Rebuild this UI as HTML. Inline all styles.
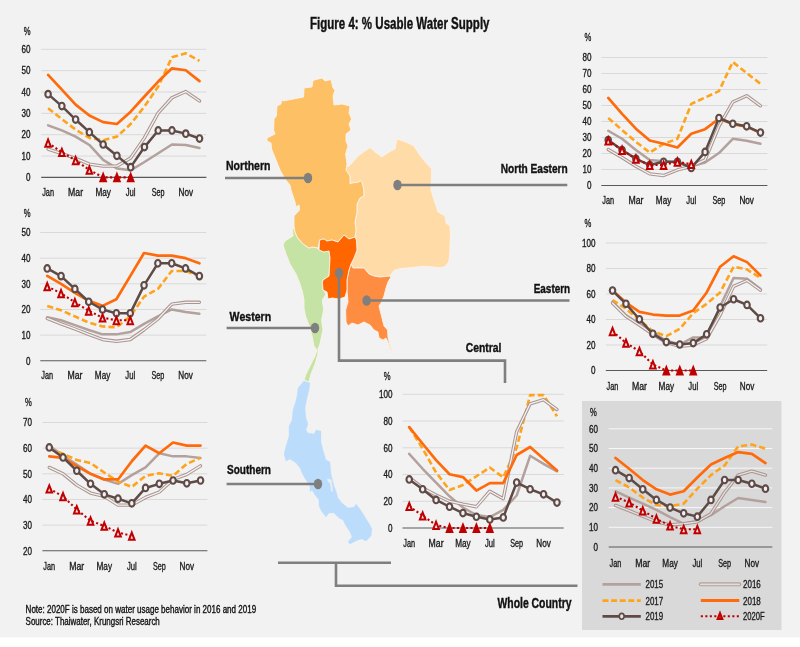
<!DOCTYPE html>
<html lang="en">
<head>
<meta charset="utf-8">
<title>Figure 4: % Usable Water Supply</title>
<style>
html,body{margin:0;padding:0;background:#fff;}
body{width:800px;height:647px;overflow:hidden;}
svg{display:block;font-family:"Liberation Sans", sans-serif;}
</style>
</head>
<body>
<svg width="800" height="647" viewBox="0 0 800 647">
<g style="filter:blur(0.45px)">
<rect x="-20" y="-20" width="840" height="657.3" fill="#f2f2f2"/>
<rect x="582" y="401" width="199.5" height="229" fill="#d9d9d9"/>
<polygon points="294.0,228.0 295.0,232.0 297.0,237.0 303.0,244.0 309.0,248.0 313.0,247.0 318.0,248.0 319.0,250.0 324.0,252.0 329.0,251.0 330.0,258.0 329.0,276.0 323.0,280.0 322.4,282.0 323.0,290.0 326.0,294.0 322.4,300.0 323.6,310.0 321.6,320.0 323.0,330.0 322.0,334.0 320.0,344.0 318.0,349.0 318.0,354.0 315.0,364.0 311.0,374.0 309.0,382.0 304.0,380.0 306.0,374.0 310.0,366.0 315.0,356.0 317.0,350.0 314.0,346.0 312.0,336.0 310.0,328.0 305.5,316.0 304.0,308.0 304.0,300.0 302.5,292.0 300.0,284.0 296.0,274.0 290.0,264.0 286.0,254.0 283.0,245.0 285.0,241.0 293.0,236.0 292.4,230.0" fill="#c5e3a4" stroke="#fbf3ea" stroke-width="0.9" stroke-linejoin="round"/>
<polygon points="304.0,381.0 310.0,383.0 309.0,390.0 307.0,398.0 305.0,408.0 306.0,418.0 308.0,424.0 306.0,430.0 308.0,433.0 314.0,434.0 316.0,430.0 321.0,431.0 321.0,442.0 323.0,450.0 326.0,460.0 330.0,462.0 331.0,474.0 334.0,486.0 336.0,491.0 338.0,498.0 342.0,503.0 348.0,508.0 354.0,507.0 356.0,504.0 360.0,509.0 365.0,517.0 370.0,525.0 372.0,529.0 371.0,536.0 366.0,541.0 362.0,539.0 358.0,540.0 350.0,544.0 348.0,542.0 352.0,537.0 350.0,532.0 346.0,526.0 343.0,520.0 339.0,518.0 334.0,513.0 329.0,513.0 326.0,517.0 322.0,512.0 319.0,506.0 319.0,500.0 315.0,495.0 312.0,490.0 310.0,492.0 310.0,486.0 306.0,480.0 303.0,475.0 300.0,468.0 296.0,463.0 290.0,459.0 286.0,461.0 284.0,454.0 286.0,446.0 289.0,436.0 289.0,426.0 292.0,420.0 293.0,410.0 295.0,404.0 297.0,396.0 298.0,388.0" fill="#bcdcfc" stroke="#bcdcfc" stroke-width="0.3" stroke-linejoin="round"/>
<polygon points="348.0,167.0 353.0,162.0 358.0,156.0 365.0,151.0 370.0,147.6 375.0,152.0 382.0,157.0 389.0,152.0 395.0,149.0 397.0,139.0 406.0,142.0 414.0,146.0 419.0,154.0 426.0,163.0 431.6,169.0 431.0,190.0 434.0,200.0 438.0,212.0 445.0,216.0 446.0,223.0 450.0,226.0 450.4,234.0 450.0,246.0 449.6,256.0 448.6,262.0 445.0,266.5 440.0,267.7 430.0,266.7 422.0,266.3 410.0,267.8 400.0,268.6 394.0,270.5 390.0,276.0 380.0,277.0 374.0,276.0 369.0,274.0 364.0,268.0 353.0,268.0 351.0,264.0 354.0,258.0 357.0,250.0 356.4,240.0 355.0,237.0 356.0,230.0 355.0,222.0 357.0,212.0 357.0,204.0 360.0,198.0 364.0,196.0 363.6,189.0 362.0,182.0 360.0,180.5 359.0,182.0 352.0,183.0 350.0,184.0 350.0,176.0 346.0,170.0 347.0,164.0" fill="#ffdba8" stroke="#fbf3ea" stroke-width="0.9" stroke-linejoin="round"/>
<polygon points="313.0,80.4 322.0,78.0 325.0,81.0 331.0,79.6 333.0,88.0 335.0,90.0 333.0,96.0 334.0,105.0 342.0,104.0 350.0,106.0 349.0,113.0 351.6,119.0 349.0,124.0 351.0,130.0 346.0,134.0 346.0,141.0 348.0,146.0 345.6,154.0 347.0,164.0 346.0,170.0 350.0,176.0 350.0,184.0 352.0,183.0 359.0,182.0 360.0,180.5 362.0,182.0 363.6,189.0 364.0,196.0 360.0,198.0 357.0,204.0 357.0,212.0 355.0,222.0 356.0,230.0 355.0,237.0 349.0,239.0 344.0,235.0 338.0,242.0 332.0,240.0 327.0,241.0 324.0,239.0 319.6,240.0 318.0,248.0 313.0,247.0 309.0,248.0 303.0,244.0 297.0,237.0 295.0,232.0 294.0,226.0 294.0,216.0 299.6,210.0 299.0,205.0 296.0,207.0 295.0,202.0 291.0,190.0 290.0,185.0 285.0,179.0 280.0,170.0 271.6,149.0 271.0,143.0 267.0,141.0 267.0,138.0 275.0,134.0 273.6,130.0 274.0,119.0 276.4,116.0 277.0,106.0 281.0,104.0 281.6,99.0 283.0,101.0 303.6,97.0 304.0,88.0 312.0,87.0" fill="#fec064" stroke="#fbf3ea" stroke-width="0.9" stroke-linejoin="round"/>
<polygon points="351.0,264.0 353.0,268.0 364.0,268.0 369.0,274.0 374.0,276.0 380.0,277.0 390.0,276.0 391.0,277.0 388.0,282.0 386.0,288.0 384.0,296.0 381.0,303.0 379.0,306.0 382.0,318.0 384.0,326.0 387.6,330.0 388.0,337.0 389.6,344.0 391.6,350.0 392.4,354.0 390.0,348.0 388.0,342.0 386.0,338.0 383.0,340.0 379.0,338.0 378.0,332.0 374.0,330.0 370.0,325.0 364.0,322.0 358.0,325.0 352.0,323.0 348.0,326.0 346.0,322.0 345.6,310.0 348.0,302.0 347.0,290.0 347.0,280.0 349.0,270.0" fill="#ff8d41" stroke="#fbf3ea" stroke-width="0.9" stroke-linejoin="round"/>
<polygon points="319.6,240.0 324.0,239.0 327.0,241.0 332.0,240.0 338.0,242.0 344.0,235.0 349.0,239.0 355.0,237.0 356.4,240.0 357.0,250.0 354.0,258.0 351.0,264.0 349.0,270.0 347.0,280.0 347.0,290.0 345.0,297.0 339.0,299.0 332.0,298.0 328.0,299.0 327.0,292.0 323.0,290.0 322.4,282.0 323.0,280.0 329.0,276.0 330.0,258.0 329.0,251.0 324.0,252.0 319.0,250.0" fill="#ff6600" stroke="#fbf3ea" stroke-width="0.9" stroke-linejoin="round"/>
<polygon points="327,478.5 331.5,479.5 333,492 331,491 330,483 328,482" fill="#e6eef6"/>
<polyline points="225.0,178.0 308.0,178.0" fill="none" stroke="#7f7f7f" stroke-width="2.6"/>
<ellipse cx="308" cy="178" rx="4.2" ry="5.3" fill="#7f7f7f"/>
<polyline points="397.5,185.0 567.3,185.0" fill="none" stroke="#7f7f7f" stroke-width="2.6"/>
<ellipse cx="397.5" cy="185" rx="4.2" ry="5.3" fill="#7f7f7f"/>
<polyline points="366.6,300.5 569.5,300.5" fill="none" stroke="#7f7f7f" stroke-width="2.6"/>
<ellipse cx="366.6" cy="300.5" rx="4.2" ry="5.3" fill="#7f7f7f"/>
<polyline points="226.6,328.0 315.0,328.0" fill="none" stroke="#7f7f7f" stroke-width="2.6"/>
<ellipse cx="315" cy="328" rx="4.2" ry="5.3" fill="#7f7f7f"/>
<polyline points="226.6,484.0 318.0,484.0" fill="none" stroke="#7f7f7f" stroke-width="2.6"/>
<ellipse cx="318" cy="484" rx="4.2" ry="5.3" fill="#7f7f7f"/>
<polyline points="339.0,273.0 339.0,360.6 505.0,360.6 505.0,383.0" fill="none" stroke="#7f7f7f" stroke-width="2.6"/>
<ellipse cx="339" cy="273" rx="4.2" ry="5.3" fill="#7f7f7f"/>
<polyline points="278.0,562.7 391.0,562.7" fill="none" stroke="#7f7f7f" stroke-width="2.6"/>
<polyline points="336.0,562.7 336.0,585.8 577.5,585.8" fill="none" stroke="#7f7f7f" stroke-width="2.6"/>
<text x="30.60" y="181.02" font-size="10.1" text-anchor="end" textLength="4.50" lengthAdjust="spacingAndGlyphs" fill="#1c1c1c" stroke="#1c1c1c" stroke-width="0.35">0</text>
<line x1="41.20" x2="206.40" y1="156.05" y2="156.05" stroke="#d9d9d9" stroke-width="1"/>
<text x="30.60" y="159.67" font-size="10.1" text-anchor="end" textLength="9.00" lengthAdjust="spacingAndGlyphs" fill="#1c1c1c" stroke="#1c1c1c" stroke-width="0.35">10</text>
<line x1="41.20" x2="206.40" y1="134.70" y2="134.70" stroke="#d9d9d9" stroke-width="1"/>
<text x="30.60" y="138.32" font-size="10.1" text-anchor="end" textLength="9.00" lengthAdjust="spacingAndGlyphs" fill="#1c1c1c" stroke="#1c1c1c" stroke-width="0.35">20</text>
<line x1="41.20" x2="206.40" y1="113.35" y2="113.35" stroke="#d9d9d9" stroke-width="1"/>
<text x="30.60" y="116.97" font-size="10.1" text-anchor="end" textLength="9.00" lengthAdjust="spacingAndGlyphs" fill="#1c1c1c" stroke="#1c1c1c" stroke-width="0.35">30</text>
<line x1="41.20" x2="206.40" y1="92.00" y2="92.00" stroke="#d9d9d9" stroke-width="1"/>
<text x="30.60" y="95.62" font-size="10.1" text-anchor="end" textLength="9.00" lengthAdjust="spacingAndGlyphs" fill="#1c1c1c" stroke="#1c1c1c" stroke-width="0.35">40</text>
<line x1="41.20" x2="206.40" y1="70.65" y2="70.65" stroke="#d9d9d9" stroke-width="1"/>
<text x="30.60" y="74.27" font-size="10.1" text-anchor="end" textLength="9.00" lengthAdjust="spacingAndGlyphs" fill="#1c1c1c" stroke="#1c1c1c" stroke-width="0.35">50</text>
<line x1="41.20" x2="206.40" y1="49.30" y2="49.30" stroke="#d9d9d9" stroke-width="1"/>
<text x="30.60" y="52.92" font-size="10.1" text-anchor="end" textLength="9.00" lengthAdjust="spacingAndGlyphs" fill="#1c1c1c" stroke="#1c1c1c" stroke-width="0.35">60</text>
<text x="23.80" y="35.30" font-size="10.7" textLength="6.80" lengthAdjust="spacingAndGlyphs" fill="#1c1c1c" stroke="#1c1c1c" stroke-width="0.35">%</text>
<polyline points="48.08,125.31 61.85,130.43 75.62,136.62 89.38,144.95 103.15,159.89 116.92,168.43 130.68,170.35 144.45,162.03 158.22,153.27 171.98,144.52 185.75,144.95 199.52,147.94" fill="none" stroke="#b3a19d" stroke-width="2.5" stroke-linejoin="round" stroke-linecap="round"/>
<polyline points="48.08,108.23 61.85,119.11 75.62,129.58 89.38,137.90 103.15,140.25 116.92,136.62 130.68,124.02 144.45,106.52 158.22,86.45 171.98,57.20 185.75,53.36 199.52,60.83" fill="none" stroke="#ffa31a" stroke-width="2.6" stroke-dasharray="6.2 3.1" stroke-linejoin="round"/>
<polyline points="48.08,149.22 61.85,153.70 75.62,158.40 89.38,164.16 103.15,166.08 116.92,166.08 130.68,157.97 144.45,137.90 158.22,112.92 171.98,97.76 185.75,91.57 199.52,100.97" fill="none" stroke="#ab9590" stroke-width="3.4" stroke-linejoin="round" stroke-linecap="round"/>
<polyline points="48.08,149.22 61.85,153.70 75.62,158.40 89.38,164.16 103.15,166.08 116.92,166.08 130.68,157.97 144.45,137.90 158.22,112.92 171.98,97.76 185.75,91.57 199.52,100.97" fill="none" stroke="#f2f2f2" stroke-width="1.3" stroke-linejoin="round" stroke-linecap="round"/>
<polyline points="48.08,74.92 61.85,89.65 75.62,104.60 89.38,115.48 103.15,122.10 116.92,124.02 130.68,111.64 144.45,96.48 158.22,81.54 171.98,68.30 185.75,70.22 199.52,81.11" fill="none" stroke="#ff6a0a" stroke-width="2.7" stroke-linejoin="round" stroke-linecap="round"/>
<line x1="41.20" x2="206.40" y1="177.40" y2="177.40" stroke="#595959" stroke-width="1.1"/>
<polyline points="48.08,94.13 61.85,106.09 75.62,119.54 89.38,132.14 103.15,144.52 116.92,155.84 130.68,167.15 144.45,147.08 158.22,130.43 171.98,130.43 185.75,133.63 199.52,138.54" fill="none" stroke="#5e4a46" stroke-width="2.5" stroke-linejoin="round" stroke-linecap="round"/>
<ellipse cx="48.08" cy="94.13" rx="2.75" ry="3.3" fill="#f4f0ef" stroke="#5e4a46" stroke-width="2.1"/>
<ellipse cx="61.85" cy="106.09" rx="2.75" ry="3.3" fill="#f4f0ef" stroke="#5e4a46" stroke-width="2.1"/>
<ellipse cx="75.62" cy="119.54" rx="2.75" ry="3.3" fill="#f4f0ef" stroke="#5e4a46" stroke-width="2.1"/>
<ellipse cx="89.38" cy="132.14" rx="2.75" ry="3.3" fill="#f4f0ef" stroke="#5e4a46" stroke-width="2.1"/>
<ellipse cx="103.15" cy="144.52" rx="2.75" ry="3.3" fill="#f4f0ef" stroke="#5e4a46" stroke-width="2.1"/>
<ellipse cx="116.92" cy="155.84" rx="2.75" ry="3.3" fill="#f4f0ef" stroke="#5e4a46" stroke-width="2.1"/>
<ellipse cx="130.68" cy="167.15" rx="2.75" ry="3.3" fill="#f4f0ef" stroke="#5e4a46" stroke-width="2.1"/>
<ellipse cx="144.45" cy="147.08" rx="2.75" ry="3.3" fill="#f4f0ef" stroke="#5e4a46" stroke-width="2.1"/>
<ellipse cx="158.22" cy="130.43" rx="2.75" ry="3.3" fill="#f4f0ef" stroke="#5e4a46" stroke-width="2.1"/>
<ellipse cx="171.98" cy="130.43" rx="2.75" ry="3.3" fill="#f4f0ef" stroke="#5e4a46" stroke-width="2.1"/>
<ellipse cx="185.75" cy="133.63" rx="2.75" ry="3.3" fill="#f4f0ef" stroke="#5e4a46" stroke-width="2.1"/>
<ellipse cx="199.52" cy="138.54" rx="2.75" ry="3.3" fill="#f4f0ef" stroke="#5e4a46" stroke-width="2.1"/>
<polyline points="48.08,142.81 61.85,152.21 75.62,160.32 89.38,169.93 103.15,177.40 116.92,177.40 130.68,177.40" fill="none" stroke="#c00000" stroke-width="2.1" stroke-dasharray="2.1 2.4"/>
<path d="M48.08 139.51 L50.88 146.71 L45.28 146.71 Z" fill="#f6e4e4" stroke="#c00000" stroke-width="2.0" stroke-linejoin="miter"/>
<path d="M61.85 148.91 L64.65 156.11 L59.05 156.11 Z" fill="#f6e4e4" stroke="#c00000" stroke-width="2.0" stroke-linejoin="miter"/>
<path d="M75.62 157.02 L78.42 164.22 L72.82 164.22 Z" fill="#f6e4e4" stroke="#c00000" stroke-width="2.0" stroke-linejoin="miter"/>
<path d="M89.38 166.63 L92.18 173.83 L86.58 173.83 Z" fill="#f6e4e4" stroke="#c00000" stroke-width="2.0" stroke-linejoin="miter"/>
<path d="M103.15 174.10 L105.95 181.30 L100.35 181.30 Z" fill="#c00000" stroke="#c00000" stroke-width="2.0" stroke-linejoin="miter"/>
<path d="M116.92 174.10 L119.72 181.30 L114.12 181.30 Z" fill="#c00000" stroke="#c00000" stroke-width="2.0" stroke-linejoin="miter"/>
<path d="M130.68 174.10 L133.48 181.30 L127.88 181.30 Z" fill="#c00000" stroke="#c00000" stroke-width="2.0" stroke-linejoin="miter"/>
<text x="48.08" y="195.50" font-size="10.3" text-anchor="middle" textLength="11.80" lengthAdjust="spacingAndGlyphs" fill="#1c1c1c" stroke="#1c1c1c" stroke-width="0.35">Jan</text>
<text x="75.62" y="195.50" font-size="10.3" text-anchor="middle" textLength="15.00" lengthAdjust="spacingAndGlyphs" fill="#1c1c1c" stroke="#1c1c1c" stroke-width="0.35">Mar</text>
<text x="103.15" y="195.50" font-size="10.3" text-anchor="middle" textLength="15.50" lengthAdjust="spacingAndGlyphs" fill="#1c1c1c" stroke="#1c1c1c" stroke-width="0.35">May</text>
<text x="130.68" y="195.50" font-size="10.3" text-anchor="middle" textLength="9.80" lengthAdjust="spacingAndGlyphs" fill="#1c1c1c" stroke="#1c1c1c" stroke-width="0.35">Jul</text>
<text x="158.22" y="195.50" font-size="10.3" text-anchor="middle" textLength="12.80" lengthAdjust="spacingAndGlyphs" fill="#1c1c1c" stroke="#1c1c1c" stroke-width="0.35">Sep</text>
<text x="185.75" y="195.50" font-size="10.3" text-anchor="middle" textLength="14.50" lengthAdjust="spacingAndGlyphs" fill="#1c1c1c" stroke="#1c1c1c" stroke-width="0.35">Nov</text>
<text x="30.60" y="364.59" font-size="10.6" text-anchor="end" textLength="4.50" lengthAdjust="spacingAndGlyphs" fill="#1c1c1c" stroke="#1c1c1c" stroke-width="0.35">0</text>
<line x1="40.30" x2="206.30" y1="335.14" y2="335.14" stroke="#d9d9d9" stroke-width="1"/>
<text x="30.60" y="338.93" font-size="10.6" text-anchor="end" textLength="9.00" lengthAdjust="spacingAndGlyphs" fill="#1c1c1c" stroke="#1c1c1c" stroke-width="0.35">10</text>
<line x1="40.30" x2="206.30" y1="309.48" y2="309.48" stroke="#d9d9d9" stroke-width="1"/>
<text x="30.60" y="313.27" font-size="10.6" text-anchor="end" textLength="9.00" lengthAdjust="spacingAndGlyphs" fill="#1c1c1c" stroke="#1c1c1c" stroke-width="0.35">20</text>
<line x1="40.30" x2="206.30" y1="283.82" y2="283.82" stroke="#d9d9d9" stroke-width="1"/>
<text x="30.60" y="287.61" font-size="10.6" text-anchor="end" textLength="9.00" lengthAdjust="spacingAndGlyphs" fill="#1c1c1c" stroke="#1c1c1c" stroke-width="0.35">30</text>
<line x1="40.30" x2="206.30" y1="258.16" y2="258.16" stroke="#d9d9d9" stroke-width="1"/>
<text x="30.60" y="261.95" font-size="10.6" text-anchor="end" textLength="9.00" lengthAdjust="spacingAndGlyphs" fill="#1c1c1c" stroke="#1c1c1c" stroke-width="0.35">40</text>
<line x1="40.30" x2="206.30" y1="232.50" y2="232.50" stroke="#d9d9d9" stroke-width="1"/>
<text x="30.60" y="236.29" font-size="10.6" text-anchor="end" textLength="9.00" lengthAdjust="spacingAndGlyphs" fill="#1c1c1c" stroke="#1c1c1c" stroke-width="0.35">50</text>
<text x="23.80" y="216.80" font-size="11.2" textLength="6.80" lengthAdjust="spacingAndGlyphs" fill="#1c1c1c" stroke="#1c1c1c" stroke-width="0.35">%</text>
<polyline points="47.22,317.18 61.05,320.26 74.88,325.13 88.72,330.01 102.55,334.37 116.38,334.37 130.22,332.06 144.05,323.85 157.88,316.41 171.72,309.48 185.55,312.05 199.38,313.84" fill="none" stroke="#b3a19d" stroke-width="2.5" stroke-linejoin="round" stroke-linecap="round"/>
<polyline points="47.22,305.89 61.05,310.25 74.88,316.41 88.72,322.57 102.55,326.42 116.38,327.44 130.22,316.41 144.05,296.65 157.88,288.95 171.72,270.99 185.55,270.99 199.38,276.12" fill="none" stroke="#ffa31a" stroke-width="2.6" stroke-dasharray="6.2 3.1" stroke-linejoin="round"/>
<polyline points="47.22,318.46 61.05,323.85 74.88,328.98 88.72,334.37 102.55,339.50 116.38,341.30 130.22,339.50 144.05,329.75 157.88,318.97 171.72,304.09 185.55,302.30 199.38,302.30" fill="none" stroke="#ab9590" stroke-width="3.4" stroke-linejoin="round" stroke-linecap="round"/>
<polyline points="47.22,318.46 61.05,323.85 74.88,328.98 88.72,334.37 102.55,339.50 116.38,341.30 130.22,339.50 144.05,329.75 157.88,318.97 171.72,304.09 185.55,302.30 199.38,302.30" fill="none" stroke="#f2f2f2" stroke-width="1.3" stroke-linejoin="round" stroke-linecap="round"/>
<polyline points="47.22,275.87 61.05,283.82 74.88,292.80 88.72,300.76 102.55,305.89 116.38,299.22 130.22,276.12 144.05,253.03 157.88,255.59 171.72,255.59 185.55,258.16 199.38,263.29" fill="none" stroke="#ff6a0a" stroke-width="2.7" stroke-linejoin="round" stroke-linecap="round"/>
<line x1="40.30" x2="206.30" y1="360.80" y2="360.80" stroke="#595959" stroke-width="1.1"/>
<polyline points="47.22,268.42 61.05,276.12 74.88,288.95 88.72,301.78 102.55,309.48 116.38,313.33 130.22,313.33 144.05,285.36 157.88,263.29 171.72,263.29 185.55,268.42 199.38,276.12" fill="none" stroke="#5e4a46" stroke-width="2.5" stroke-linejoin="round" stroke-linecap="round"/>
<ellipse cx="47.22" cy="268.42" rx="2.75" ry="3.3" fill="#f4f0ef" stroke="#5e4a46" stroke-width="2.1"/>
<ellipse cx="61.05" cy="276.12" rx="2.75" ry="3.3" fill="#f4f0ef" stroke="#5e4a46" stroke-width="2.1"/>
<ellipse cx="74.88" cy="288.95" rx="2.75" ry="3.3" fill="#f4f0ef" stroke="#5e4a46" stroke-width="2.1"/>
<ellipse cx="88.72" cy="301.78" rx="2.75" ry="3.3" fill="#f4f0ef" stroke="#5e4a46" stroke-width="2.1"/>
<ellipse cx="102.55" cy="309.48" rx="2.75" ry="3.3" fill="#f4f0ef" stroke="#5e4a46" stroke-width="2.1"/>
<ellipse cx="116.38" cy="313.33" rx="2.75" ry="3.3" fill="#f4f0ef" stroke="#5e4a46" stroke-width="2.1"/>
<ellipse cx="130.22" cy="313.33" rx="2.75" ry="3.3" fill="#f4f0ef" stroke="#5e4a46" stroke-width="2.1"/>
<ellipse cx="144.05" cy="285.36" rx="2.75" ry="3.3" fill="#f4f0ef" stroke="#5e4a46" stroke-width="2.1"/>
<ellipse cx="157.88" cy="263.29" rx="2.75" ry="3.3" fill="#f4f0ef" stroke="#5e4a46" stroke-width="2.1"/>
<ellipse cx="171.72" cy="263.29" rx="2.75" ry="3.3" fill="#f4f0ef" stroke="#5e4a46" stroke-width="2.1"/>
<ellipse cx="185.55" cy="268.42" rx="2.75" ry="3.3" fill="#f4f0ef" stroke="#5e4a46" stroke-width="2.1"/>
<ellipse cx="199.38" cy="276.12" rx="2.75" ry="3.3" fill="#f4f0ef" stroke="#5e4a46" stroke-width="2.1"/>
<polyline points="47.22,286.39 61.05,293.31 74.88,302.30 88.72,310.76 102.55,317.69 116.38,320.26 130.22,320.26" fill="none" stroke="#c00000" stroke-width="2.1" stroke-dasharray="2.1 2.4"/>
<path d="M47.22 283.09 L50.02 290.29 L44.42 290.29 Z" fill="#f6e4e4" stroke="#c00000" stroke-width="2.0" stroke-linejoin="miter"/>
<path d="M61.05 290.01 L63.85 297.21 L58.25 297.21 Z" fill="#f6e4e4" stroke="#c00000" stroke-width="2.0" stroke-linejoin="miter"/>
<path d="M74.88 299.00 L77.68 306.20 L72.08 306.20 Z" fill="#f6e4e4" stroke="#c00000" stroke-width="2.0" stroke-linejoin="miter"/>
<path d="M88.72 307.46 L91.52 314.66 L85.92 314.66 Z" fill="#f6e4e4" stroke="#c00000" stroke-width="2.0" stroke-linejoin="miter"/>
<path d="M102.55 314.39 L105.35 321.59 L99.75 321.59 Z" fill="#f6e4e4" stroke="#c00000" stroke-width="2.0" stroke-linejoin="miter"/>
<path d="M116.38 316.96 L119.18 324.16 L113.58 324.16 Z" fill="#f6e4e4" stroke="#c00000" stroke-width="2.0" stroke-linejoin="miter"/>
<path d="M130.22 316.96 L133.02 324.16 L127.42 324.16 Z" fill="#f6e4e4" stroke="#c00000" stroke-width="2.0" stroke-linejoin="miter"/>
<text x="47.22" y="379.00" font-size="10.3" text-anchor="middle" textLength="11.80" lengthAdjust="spacingAndGlyphs" fill="#1c1c1c" stroke="#1c1c1c" stroke-width="0.35">Jan</text>
<text x="74.88" y="379.00" font-size="10.3" text-anchor="middle" textLength="15.00" lengthAdjust="spacingAndGlyphs" fill="#1c1c1c" stroke="#1c1c1c" stroke-width="0.35">Mar</text>
<text x="102.55" y="379.00" font-size="10.3" text-anchor="middle" textLength="15.50" lengthAdjust="spacingAndGlyphs" fill="#1c1c1c" stroke="#1c1c1c" stroke-width="0.35">May</text>
<text x="130.22" y="379.00" font-size="10.3" text-anchor="middle" textLength="9.80" lengthAdjust="spacingAndGlyphs" fill="#1c1c1c" stroke="#1c1c1c" stroke-width="0.35">Jul</text>
<text x="157.88" y="379.00" font-size="10.3" text-anchor="middle" textLength="12.80" lengthAdjust="spacingAndGlyphs" fill="#1c1c1c" stroke="#1c1c1c" stroke-width="0.35">Sep</text>
<text x="185.55" y="379.00" font-size="10.3" text-anchor="middle" textLength="14.50" lengthAdjust="spacingAndGlyphs" fill="#1c1c1c" stroke="#1c1c1c" stroke-width="0.35">Nov</text>
<text x="31.90" y="554.59" font-size="10.6" text-anchor="end" textLength="9.00" lengthAdjust="spacingAndGlyphs" fill="#1c1c1c" stroke="#1c1c1c" stroke-width="0.35">20</text>
<line x1="42.40" x2="207.40" y1="525.14" y2="525.14" stroke="#d9d9d9" stroke-width="1"/>
<text x="31.90" y="528.93" font-size="10.6" text-anchor="end" textLength="9.00" lengthAdjust="spacingAndGlyphs" fill="#1c1c1c" stroke="#1c1c1c" stroke-width="0.35">30</text>
<line x1="42.40" x2="207.40" y1="499.48" y2="499.48" stroke="#d9d9d9" stroke-width="1"/>
<text x="31.90" y="503.27" font-size="10.6" text-anchor="end" textLength="9.00" lengthAdjust="spacingAndGlyphs" fill="#1c1c1c" stroke="#1c1c1c" stroke-width="0.35">40</text>
<line x1="42.40" x2="207.40" y1="473.82" y2="473.82" stroke="#d9d9d9" stroke-width="1"/>
<text x="31.90" y="477.61" font-size="10.6" text-anchor="end" textLength="9.00" lengthAdjust="spacingAndGlyphs" fill="#1c1c1c" stroke="#1c1c1c" stroke-width="0.35">50</text>
<line x1="42.40" x2="207.40" y1="448.16" y2="448.16" stroke="#d9d9d9" stroke-width="1"/>
<text x="31.90" y="451.95" font-size="10.6" text-anchor="end" textLength="9.00" lengthAdjust="spacingAndGlyphs" fill="#1c1c1c" stroke="#1c1c1c" stroke-width="0.35">60</text>
<line x1="42.40" x2="207.40" y1="422.50" y2="422.50" stroke="#d9d9d9" stroke-width="1"/>
<text x="31.90" y="426.29" font-size="10.6" text-anchor="end" textLength="9.00" lengthAdjust="spacingAndGlyphs" fill="#1c1c1c" stroke="#1c1c1c" stroke-width="0.35">70</text>
<text x="25.00" y="405.50" font-size="11.2" textLength="6.80" lengthAdjust="spacingAndGlyphs" fill="#1c1c1c" stroke="#1c1c1c" stroke-width="0.35">%</text>
<polyline points="49.27,445.59 63.02,455.86 76.78,464.58 90.53,473.82 104.28,479.47 118.03,483.83 131.78,475.10 145.53,467.40 159.28,453.29 173.03,456.37 186.78,456.37 200.53,457.91" fill="none" stroke="#b3a19d" stroke-width="2.5" stroke-linejoin="round" stroke-linecap="round"/>
<polyline points="49.27,448.67 63.02,453.81 76.78,459.96 90.53,463.04 104.28,472.54 118.03,481.52 131.78,486.91 145.53,475.87 159.28,473.31 173.03,475.87 186.78,463.81 200.53,457.91" fill="none" stroke="#ffa31a" stroke-width="2.6" stroke-dasharray="6.2 3.1" stroke-linejoin="round"/>
<polyline points="49.27,467.40 63.02,473.82 76.78,485.11 90.53,493.06 104.28,496.40 118.03,505.13 131.78,505.13 145.53,497.43 159.28,492.04 173.03,479.47 186.78,474.33 200.53,465.87" fill="none" stroke="#ab9590" stroke-width="3.4" stroke-linejoin="round" stroke-linecap="round"/>
<polyline points="49.27,467.40 63.02,473.82 76.78,485.11 90.53,493.06 104.28,496.40 118.03,505.13 131.78,505.13 145.53,497.43 159.28,492.04 173.03,479.47 186.78,474.33 200.53,465.87" fill="none" stroke="#f2f2f2" stroke-width="1.3" stroke-linejoin="round" stroke-linecap="round"/>
<polyline points="49.27,456.37 63.02,457.91 76.78,466.12 90.53,473.82 104.28,479.47 118.03,479.47 131.78,461.25 145.53,445.59 159.28,453.29 173.03,442.51 186.78,445.59 200.53,445.59" fill="none" stroke="#ff6a0a" stroke-width="2.7" stroke-linejoin="round" stroke-linecap="round"/>
<line x1="42.40" x2="207.40" y1="550.80" y2="550.80" stroke="#595959" stroke-width="1.1"/>
<polyline points="49.27,447.39 63.02,457.40 76.78,470.74 90.53,483.83 104.28,494.35 118.03,498.71 131.78,503.33 145.53,487.93 159.28,483.83 173.03,480.49 186.78,483.31 200.53,480.49" fill="none" stroke="#5e4a46" stroke-width="2.5" stroke-linejoin="round" stroke-linecap="round"/>
<ellipse cx="49.27" cy="447.39" rx="2.75" ry="3.3" fill="#f4f0ef" stroke="#5e4a46" stroke-width="2.1"/>
<ellipse cx="63.02" cy="457.40" rx="2.75" ry="3.3" fill="#f4f0ef" stroke="#5e4a46" stroke-width="2.1"/>
<ellipse cx="76.78" cy="470.74" rx="2.75" ry="3.3" fill="#f4f0ef" stroke="#5e4a46" stroke-width="2.1"/>
<ellipse cx="90.53" cy="483.83" rx="2.75" ry="3.3" fill="#f4f0ef" stroke="#5e4a46" stroke-width="2.1"/>
<ellipse cx="104.28" cy="494.35" rx="2.75" ry="3.3" fill="#f4f0ef" stroke="#5e4a46" stroke-width="2.1"/>
<ellipse cx="118.03" cy="498.71" rx="2.75" ry="3.3" fill="#f4f0ef" stroke="#5e4a46" stroke-width="2.1"/>
<ellipse cx="131.78" cy="503.33" rx="2.75" ry="3.3" fill="#f4f0ef" stroke="#5e4a46" stroke-width="2.1"/>
<ellipse cx="145.53" cy="487.93" rx="2.75" ry="3.3" fill="#f4f0ef" stroke="#5e4a46" stroke-width="2.1"/>
<ellipse cx="159.28" cy="483.83" rx="2.75" ry="3.3" fill="#f4f0ef" stroke="#5e4a46" stroke-width="2.1"/>
<ellipse cx="173.03" cy="480.49" rx="2.75" ry="3.3" fill="#f4f0ef" stroke="#5e4a46" stroke-width="2.1"/>
<ellipse cx="186.78" cy="483.31" rx="2.75" ry="3.3" fill="#f4f0ef" stroke="#5e4a46" stroke-width="2.1"/>
<ellipse cx="200.53" cy="480.49" rx="2.75" ry="3.3" fill="#f4f0ef" stroke="#5e4a46" stroke-width="2.1"/>
<polyline points="49.27,488.70 63.02,496.40 76.78,509.49 90.53,520.78 104.28,525.91 118.03,532.58 131.78,535.92" fill="none" stroke="#c00000" stroke-width="2.1" stroke-dasharray="2.1 2.4"/>
<path d="M49.27 485.40 L52.07 492.60 L46.48 492.60 Z" fill="#f6e4e4" stroke="#c00000" stroke-width="2.0" stroke-linejoin="miter"/>
<path d="M63.02 493.10 L65.83 500.30 L60.23 500.30 Z" fill="#f6e4e4" stroke="#c00000" stroke-width="2.0" stroke-linejoin="miter"/>
<path d="M76.78 506.19 L79.58 513.39 L73.98 513.39 Z" fill="#f6e4e4" stroke="#c00000" stroke-width="2.0" stroke-linejoin="miter"/>
<path d="M90.53 517.48 L93.33 524.68 L87.73 524.68 Z" fill="#f6e4e4" stroke="#c00000" stroke-width="2.0" stroke-linejoin="miter"/>
<path d="M104.28 522.61 L107.08 529.81 L101.48 529.81 Z" fill="#f6e4e4" stroke="#c00000" stroke-width="2.0" stroke-linejoin="miter"/>
<path d="M118.03 529.28 L120.83 536.48 L115.23 536.48 Z" fill="#f6e4e4" stroke="#c00000" stroke-width="2.0" stroke-linejoin="miter"/>
<path d="M131.78 532.62 L134.58 539.82 L128.97 539.82 Z" fill="#f6e4e4" stroke="#c00000" stroke-width="2.0" stroke-linejoin="miter"/>
<text x="49.27" y="569.50" font-size="10.3" text-anchor="middle" textLength="11.80" lengthAdjust="spacingAndGlyphs" fill="#1c1c1c" stroke="#1c1c1c" stroke-width="0.35">Jan</text>
<text x="76.78" y="569.50" font-size="10.3" text-anchor="middle" textLength="15.00" lengthAdjust="spacingAndGlyphs" fill="#1c1c1c" stroke="#1c1c1c" stroke-width="0.35">Mar</text>
<text x="104.28" y="569.50" font-size="10.3" text-anchor="middle" textLength="15.50" lengthAdjust="spacingAndGlyphs" fill="#1c1c1c" stroke="#1c1c1c" stroke-width="0.35">May</text>
<text x="131.78" y="569.50" font-size="10.3" text-anchor="middle" textLength="9.80" lengthAdjust="spacingAndGlyphs" fill="#1c1c1c" stroke="#1c1c1c" stroke-width="0.35">Jul</text>
<text x="159.28" y="569.50" font-size="10.3" text-anchor="middle" textLength="12.80" lengthAdjust="spacingAndGlyphs" fill="#1c1c1c" stroke="#1c1c1c" stroke-width="0.35">Sep</text>
<text x="186.78" y="569.50" font-size="10.3" text-anchor="middle" textLength="14.50" lengthAdjust="spacingAndGlyphs" fill="#1c1c1c" stroke="#1c1c1c" stroke-width="0.35">Nov</text>
<text x="591.50" y="189.29" font-size="10.6" text-anchor="end" textLength="4.50" lengthAdjust="spacingAndGlyphs" fill="#1c1c1c" stroke="#1c1c1c" stroke-width="0.35">0</text>
<line x1="601.30" x2="767.40" y1="169.50" y2="169.50" stroke="#d9d9d9" stroke-width="1"/>
<text x="591.50" y="173.29" font-size="10.6" text-anchor="end" textLength="9.00" lengthAdjust="spacingAndGlyphs" fill="#1c1c1c" stroke="#1c1c1c" stroke-width="0.35">10</text>
<line x1="601.30" x2="767.40" y1="153.50" y2="153.50" stroke="#d9d9d9" stroke-width="1"/>
<text x="591.50" y="157.29" font-size="10.6" text-anchor="end" textLength="9.00" lengthAdjust="spacingAndGlyphs" fill="#1c1c1c" stroke="#1c1c1c" stroke-width="0.35">20</text>
<line x1="601.30" x2="767.40" y1="137.50" y2="137.50" stroke="#d9d9d9" stroke-width="1"/>
<text x="591.50" y="141.29" font-size="10.6" text-anchor="end" textLength="9.00" lengthAdjust="spacingAndGlyphs" fill="#1c1c1c" stroke="#1c1c1c" stroke-width="0.35">30</text>
<line x1="601.30" x2="767.40" y1="121.50" y2="121.50" stroke="#d9d9d9" stroke-width="1"/>
<text x="591.50" y="125.29" font-size="10.6" text-anchor="end" textLength="9.00" lengthAdjust="spacingAndGlyphs" fill="#1c1c1c" stroke="#1c1c1c" stroke-width="0.35">40</text>
<line x1="601.30" x2="767.40" y1="105.50" y2="105.50" stroke="#d9d9d9" stroke-width="1"/>
<text x="591.50" y="109.29" font-size="10.6" text-anchor="end" textLength="9.00" lengthAdjust="spacingAndGlyphs" fill="#1c1c1c" stroke="#1c1c1c" stroke-width="0.35">50</text>
<line x1="601.30" x2="767.40" y1="89.50" y2="89.50" stroke="#d9d9d9" stroke-width="1"/>
<text x="591.50" y="93.29" font-size="10.6" text-anchor="end" textLength="9.00" lengthAdjust="spacingAndGlyphs" fill="#1c1c1c" stroke="#1c1c1c" stroke-width="0.35">60</text>
<line x1="601.30" x2="767.40" y1="73.50" y2="73.50" stroke="#d9d9d9" stroke-width="1"/>
<text x="591.50" y="77.29" font-size="10.6" text-anchor="end" textLength="9.00" lengthAdjust="spacingAndGlyphs" fill="#1c1c1c" stroke="#1c1c1c" stroke-width="0.35">70</text>
<line x1="601.30" x2="767.40" y1="57.50" y2="57.50" stroke="#d9d9d9" stroke-width="1"/>
<text x="591.50" y="61.29" font-size="10.6" text-anchor="end" textLength="9.00" lengthAdjust="spacingAndGlyphs" fill="#1c1c1c" stroke="#1c1c1c" stroke-width="0.35">80</text>
<text x="584.50" y="40.50" font-size="11.2" textLength="6.80" lengthAdjust="spacingAndGlyphs" fill="#1c1c1c" stroke="#1c1c1c" stroke-width="0.35">%</text>
<polyline points="608.22,130.78 622.06,138.78 635.90,149.98 649.75,159.90 663.59,161.18 677.43,162.46 691.27,166.30 705.11,162.46 718.95,153.02 732.80,138.78 746.64,140.70 760.48,143.74" fill="none" stroke="#b3a19d" stroke-width="2.5" stroke-linejoin="round" stroke-linecap="round"/>
<polyline points="608.22,117.98 622.06,129.98 635.90,141.82 649.75,152.54 663.59,143.90 677.43,138.78 691.27,103.90 705.11,97.50 718.95,91.10 732.80,61.98 746.64,73.02 760.48,83.74" fill="none" stroke="#ffa31a" stroke-width="2.6" stroke-dasharray="6.2 3.1" stroke-linejoin="round"/>
<polyline points="608.22,149.50 622.06,157.50 635.90,166.30 649.75,173.82 663.59,175.50 677.43,169.98 691.27,166.30 705.11,159.90 718.95,126.30 732.80,101.98 746.64,95.74 760.48,105.82" fill="none" stroke="#ab9590" stroke-width="3.4" stroke-linejoin="round" stroke-linecap="round"/>
<polyline points="608.22,149.50 622.06,157.50 635.90,166.30 649.75,173.82 663.59,175.50 677.43,169.98 691.27,166.30 705.11,159.90 718.95,126.30 732.80,101.98 746.64,95.74 760.48,105.82" fill="none" stroke="#f2f2f2" stroke-width="1.3" stroke-linejoin="round" stroke-linecap="round"/>
<polyline points="608.22,97.98 622.06,113.82 635.90,128.70 649.75,140.54 663.59,143.74 677.43,147.50 691.27,133.82 705.11,129.18 718.95,118.78 732.80,124.06 746.64,126.62 760.48,132.86" fill="none" stroke="#ff6a0a" stroke-width="2.7" stroke-linejoin="round" stroke-linecap="round"/>
<line x1="601.30" x2="767.40" y1="185.50" y2="185.50" stroke="#595959" stroke-width="1.1"/>
<polyline points="608.22,140.06 622.06,149.98 635.90,158.78 649.75,165.02 663.59,161.82 677.43,161.82 691.27,167.90 705.11,151.90 718.95,117.98 732.80,123.74 746.64,126.30 760.48,132.54" fill="none" stroke="#5e4a46" stroke-width="2.5" stroke-linejoin="round" stroke-linecap="round"/>
<ellipse cx="608.22" cy="140.06" rx="2.75" ry="3.3" fill="#f4f0ef" stroke="#5e4a46" stroke-width="2.1"/>
<ellipse cx="622.06" cy="149.98" rx="2.75" ry="3.3" fill="#f4f0ef" stroke="#5e4a46" stroke-width="2.1"/>
<ellipse cx="635.90" cy="158.78" rx="2.75" ry="3.3" fill="#f4f0ef" stroke="#5e4a46" stroke-width="2.1"/>
<ellipse cx="649.75" cy="165.02" rx="2.75" ry="3.3" fill="#f4f0ef" stroke="#5e4a46" stroke-width="2.1"/>
<ellipse cx="663.59" cy="161.82" rx="2.75" ry="3.3" fill="#f4f0ef" stroke="#5e4a46" stroke-width="2.1"/>
<ellipse cx="677.43" cy="161.82" rx="2.75" ry="3.3" fill="#f4f0ef" stroke="#5e4a46" stroke-width="2.1"/>
<ellipse cx="691.27" cy="167.90" rx="2.75" ry="3.3" fill="#f4f0ef" stroke="#5e4a46" stroke-width="2.1"/>
<ellipse cx="705.11" cy="151.90" rx="2.75" ry="3.3" fill="#f4f0ef" stroke="#5e4a46" stroke-width="2.1"/>
<ellipse cx="718.95" cy="117.98" rx="2.75" ry="3.3" fill="#f4f0ef" stroke="#5e4a46" stroke-width="2.1"/>
<ellipse cx="732.80" cy="123.74" rx="2.75" ry="3.3" fill="#f4f0ef" stroke="#5e4a46" stroke-width="2.1"/>
<ellipse cx="746.64" cy="126.30" rx="2.75" ry="3.3" fill="#f4f0ef" stroke="#5e4a46" stroke-width="2.1"/>
<ellipse cx="760.48" cy="132.54" rx="2.75" ry="3.3" fill="#f4f0ef" stroke="#5e4a46" stroke-width="2.1"/>
<polyline points="608.22,140.70 622.06,149.98 635.90,158.78 649.75,165.02 663.59,165.02 677.43,161.82 691.27,164.22" fill="none" stroke="#c00000" stroke-width="2.1" stroke-dasharray="2.1 2.4"/>
<path d="M608.22 137.40 L611.02 144.60 L605.42 144.60 Z" fill="#f6e4e4" stroke="#c00000" stroke-width="2.0" stroke-linejoin="miter"/>
<path d="M622.06 146.68 L624.86 153.88 L619.26 153.88 Z" fill="#f6e4e4" stroke="#c00000" stroke-width="2.0" stroke-linejoin="miter"/>
<path d="M635.90 155.48 L638.70 162.68 L633.10 162.68 Z" fill="#f6e4e4" stroke="#c00000" stroke-width="2.0" stroke-linejoin="miter"/>
<path d="M649.75 161.72 L652.55 168.92 L646.95 168.92 Z" fill="#f6e4e4" stroke="#c00000" stroke-width="2.0" stroke-linejoin="miter"/>
<path d="M663.59 161.72 L666.39 168.92 L660.79 168.92 Z" fill="#f6e4e4" stroke="#c00000" stroke-width="2.0" stroke-linejoin="miter"/>
<path d="M677.43 158.52 L680.23 165.72 L674.63 165.72 Z" fill="#f6e4e4" stroke="#c00000" stroke-width="2.0" stroke-linejoin="miter"/>
<path d="M691.27 160.92 L694.07 168.12 L688.47 168.12 Z" fill="#f6e4e4" stroke="#c00000" stroke-width="2.0" stroke-linejoin="miter"/>
<text x="608.22" y="204.00" font-size="10.3" text-anchor="middle" textLength="11.80" lengthAdjust="spacingAndGlyphs" fill="#1c1c1c" stroke="#1c1c1c" stroke-width="0.35">Jan</text>
<text x="635.90" y="204.00" font-size="10.3" text-anchor="middle" textLength="15.00" lengthAdjust="spacingAndGlyphs" fill="#1c1c1c" stroke="#1c1c1c" stroke-width="0.35">Mar</text>
<text x="663.59" y="204.00" font-size="10.3" text-anchor="middle" textLength="15.50" lengthAdjust="spacingAndGlyphs" fill="#1c1c1c" stroke="#1c1c1c" stroke-width="0.35">May</text>
<text x="691.27" y="204.00" font-size="10.3" text-anchor="middle" textLength="9.80" lengthAdjust="spacingAndGlyphs" fill="#1c1c1c" stroke="#1c1c1c" stroke-width="0.35">Jul</text>
<text x="718.95" y="204.00" font-size="10.3" text-anchor="middle" textLength="12.80" lengthAdjust="spacingAndGlyphs" fill="#1c1c1c" stroke="#1c1c1c" stroke-width="0.35">Sep</text>
<text x="746.64" y="204.00" font-size="10.3" text-anchor="middle" textLength="14.50" lengthAdjust="spacingAndGlyphs" fill="#1c1c1c" stroke="#1c1c1c" stroke-width="0.35">Nov</text>
<text x="595.50" y="374.29" font-size="10.6" text-anchor="end" textLength="4.50" lengthAdjust="spacingAndGlyphs" fill="#1c1c1c" stroke="#1c1c1c" stroke-width="0.35">0</text>
<line x1="605.80" x2="767.20" y1="345.00" y2="345.00" stroke="#d9d9d9" stroke-width="1"/>
<text x="595.50" y="348.79" font-size="10.6" text-anchor="end" textLength="9.00" lengthAdjust="spacingAndGlyphs" fill="#1c1c1c" stroke="#1c1c1c" stroke-width="0.35">20</text>
<line x1="605.80" x2="767.20" y1="319.50" y2="319.50" stroke="#d9d9d9" stroke-width="1"/>
<text x="595.50" y="323.29" font-size="10.6" text-anchor="end" textLength="9.00" lengthAdjust="spacingAndGlyphs" fill="#1c1c1c" stroke="#1c1c1c" stroke-width="0.35">40</text>
<line x1="605.80" x2="767.20" y1="294.00" y2="294.00" stroke="#d9d9d9" stroke-width="1"/>
<text x="595.50" y="297.79" font-size="10.6" text-anchor="end" textLength="9.00" lengthAdjust="spacingAndGlyphs" fill="#1c1c1c" stroke="#1c1c1c" stroke-width="0.35">60</text>
<line x1="605.80" x2="767.20" y1="268.50" y2="268.50" stroke="#d9d9d9" stroke-width="1"/>
<text x="595.50" y="272.29" font-size="10.6" text-anchor="end" textLength="9.00" lengthAdjust="spacingAndGlyphs" fill="#1c1c1c" stroke="#1c1c1c" stroke-width="0.35">80</text>
<line x1="605.80" x2="767.20" y1="243.00" y2="243.00" stroke="#d9d9d9" stroke-width="1"/>
<text x="595.50" y="246.79" font-size="10.6" text-anchor="end" textLength="13.50" lengthAdjust="spacingAndGlyphs" fill="#1c1c1c" stroke="#1c1c1c" stroke-width="0.35">100</text>
<text x="584.50" y="227.30" font-size="11.2" textLength="6.80" lengthAdjust="spacingAndGlyphs" fill="#1c1c1c" stroke="#1c1c1c" stroke-width="0.35">%</text>
<polyline points="612.52,301.65 625.97,315.04 639.42,323.71 652.88,332.50 666.33,340.79 679.77,344.49 693.23,337.48 706.67,337.48 720.12,306.24 733.58,278.06 747.03,278.70 760.48,288.90" fill="none" stroke="#b3a19d" stroke-width="2.5" stroke-linejoin="round" stroke-linecap="round"/>
<polyline points="612.52,299.99 625.97,308.79 639.42,320.01 652.88,331.23 666.33,336.20 679.77,328.81 693.23,313.12 706.67,303.82 720.12,292.47 733.58,266.71 747.03,269.52 760.48,278.06" fill="none" stroke="#ffa31a" stroke-width="2.6" stroke-dasharray="6.2 3.1" stroke-linejoin="round"/>
<polyline points="612.52,302.93 625.97,316.31 639.42,324.98 652.88,334.29 666.33,342.45 679.77,346.27 693.23,345.00 706.67,338.62 720.12,315.04 733.58,286.35 747.03,280.49 760.48,290.18" fill="none" stroke="#ab9590" stroke-width="3.4" stroke-linejoin="round" stroke-linecap="round"/>
<polyline points="612.52,302.93 625.97,316.31 639.42,324.98 652.88,334.29 666.33,342.45 679.77,346.27 693.23,345.00 706.67,338.62 720.12,315.04 733.58,286.35 747.03,280.49 760.48,290.18" fill="none" stroke="#f2f2f2" stroke-width="1.3" stroke-linejoin="round" stroke-linecap="round"/>
<polyline points="612.52,290.56 625.97,302.54 639.42,311.85 652.88,314.53 666.33,315.55 679.77,315.55 693.23,310.57 706.67,292.47 720.12,266.71 733.58,256.26 747.03,262.12 760.48,275.51" fill="none" stroke="#ff6a0a" stroke-width="2.7" stroke-linejoin="round" stroke-linecap="round"/>
<line x1="605.80" x2="767.20" y1="370.50" y2="370.50" stroke="#595959" stroke-width="1.1"/>
<polyline points="612.52,290.56 625.97,303.82 639.42,319.25 652.88,333.78 666.33,342.07 679.77,344.49 693.23,343.09 706.67,334.29 720.12,307.51 733.58,299.23 747.03,304.97 760.48,318.23" fill="none" stroke="#5e4a46" stroke-width="2.5" stroke-linejoin="round" stroke-linecap="round"/>
<ellipse cx="612.52" cy="290.56" rx="2.75" ry="3.3" fill="#f4f0ef" stroke="#5e4a46" stroke-width="2.1"/>
<ellipse cx="625.97" cy="303.82" rx="2.75" ry="3.3" fill="#f4f0ef" stroke="#5e4a46" stroke-width="2.1"/>
<ellipse cx="639.42" cy="319.25" rx="2.75" ry="3.3" fill="#f4f0ef" stroke="#5e4a46" stroke-width="2.1"/>
<ellipse cx="652.88" cy="333.78" rx="2.75" ry="3.3" fill="#f4f0ef" stroke="#5e4a46" stroke-width="2.1"/>
<ellipse cx="666.33" cy="342.07" rx="2.75" ry="3.3" fill="#f4f0ef" stroke="#5e4a46" stroke-width="2.1"/>
<ellipse cx="679.77" cy="344.49" rx="2.75" ry="3.3" fill="#f4f0ef" stroke="#5e4a46" stroke-width="2.1"/>
<ellipse cx="693.23" cy="343.09" rx="2.75" ry="3.3" fill="#f4f0ef" stroke="#5e4a46" stroke-width="2.1"/>
<ellipse cx="706.67" cy="334.29" rx="2.75" ry="3.3" fill="#f4f0ef" stroke="#5e4a46" stroke-width="2.1"/>
<ellipse cx="720.12" cy="307.51" rx="2.75" ry="3.3" fill="#f4f0ef" stroke="#5e4a46" stroke-width="2.1"/>
<ellipse cx="733.58" cy="299.23" rx="2.75" ry="3.3" fill="#f4f0ef" stroke="#5e4a46" stroke-width="2.1"/>
<ellipse cx="747.03" cy="304.97" rx="2.75" ry="3.3" fill="#f4f0ef" stroke="#5e4a46" stroke-width="2.1"/>
<ellipse cx="760.48" cy="318.23" rx="2.75" ry="3.3" fill="#f4f0ef" stroke="#5e4a46" stroke-width="2.1"/>
<polyline points="612.52,331.23 625.97,342.96 639.42,351.25 652.88,364.51 666.33,370.50 679.77,370.50 693.23,370.50" fill="none" stroke="#c00000" stroke-width="2.1" stroke-dasharray="2.1 2.4"/>
<path d="M612.52 327.93 L615.32 335.13 L609.73 335.13 Z" fill="#f6e4e4" stroke="#c00000" stroke-width="2.0" stroke-linejoin="miter"/>
<path d="M625.97 339.66 L628.77 346.86 L623.17 346.86 Z" fill="#f6e4e4" stroke="#c00000" stroke-width="2.0" stroke-linejoin="miter"/>
<path d="M639.42 347.95 L642.22 355.15 L636.62 355.15 Z" fill="#f6e4e4" stroke="#c00000" stroke-width="2.0" stroke-linejoin="miter"/>
<path d="M652.88 361.21 L655.67 368.41 L650.08 368.41 Z" fill="#f6e4e4" stroke="#c00000" stroke-width="2.0" stroke-linejoin="miter"/>
<path d="M666.33 367.20 L669.12 374.40 L663.53 374.40 Z" fill="#c00000" stroke="#c00000" stroke-width="2.0" stroke-linejoin="miter"/>
<path d="M679.77 367.20 L682.57 374.40 L676.98 374.40 Z" fill="#c00000" stroke="#c00000" stroke-width="2.0" stroke-linejoin="miter"/>
<path d="M693.23 367.20 L696.02 374.40 L690.43 374.40 Z" fill="#c00000" stroke="#c00000" stroke-width="2.0" stroke-linejoin="miter"/>
<text x="612.52" y="389.70" font-size="10.3" text-anchor="middle" textLength="11.80" lengthAdjust="spacingAndGlyphs" fill="#1c1c1c" stroke="#1c1c1c" stroke-width="0.35">Jan</text>
<text x="639.42" y="389.70" font-size="10.3" text-anchor="middle" textLength="15.00" lengthAdjust="spacingAndGlyphs" fill="#1c1c1c" stroke="#1c1c1c" stroke-width="0.35">Mar</text>
<text x="666.33" y="389.70" font-size="10.3" text-anchor="middle" textLength="15.50" lengthAdjust="spacingAndGlyphs" fill="#1c1c1c" stroke="#1c1c1c" stroke-width="0.35">May</text>
<text x="693.23" y="389.70" font-size="10.3" text-anchor="middle" textLength="9.80" lengthAdjust="spacingAndGlyphs" fill="#1c1c1c" stroke="#1c1c1c" stroke-width="0.35">Jul</text>
<text x="720.12" y="389.70" font-size="10.3" text-anchor="middle" textLength="12.80" lengthAdjust="spacingAndGlyphs" fill="#1c1c1c" stroke="#1c1c1c" stroke-width="0.35">Sep</text>
<text x="747.03" y="389.70" font-size="10.3" text-anchor="middle" textLength="14.50" lengthAdjust="spacingAndGlyphs" fill="#1c1c1c" stroke="#1c1c1c" stroke-width="0.35">Nov</text>
<text x="392.50" y="531.79" font-size="10.6" text-anchor="end" textLength="4.50" lengthAdjust="spacingAndGlyphs" fill="#1c1c1c" stroke="#1c1c1c" stroke-width="0.35">0</text>
<line x1="402.50" x2="563.70" y1="501.26" y2="501.26" stroke="#d9d9d9" stroke-width="1"/>
<text x="392.50" y="505.05" font-size="10.6" text-anchor="end" textLength="9.00" lengthAdjust="spacingAndGlyphs" fill="#1c1c1c" stroke="#1c1c1c" stroke-width="0.35">20</text>
<line x1="402.50" x2="563.70" y1="474.52" y2="474.52" stroke="#d9d9d9" stroke-width="1"/>
<text x="392.50" y="478.31" font-size="10.6" text-anchor="end" textLength="9.00" lengthAdjust="spacingAndGlyphs" fill="#1c1c1c" stroke="#1c1c1c" stroke-width="0.35">40</text>
<line x1="402.50" x2="563.70" y1="447.78" y2="447.78" stroke="#d9d9d9" stroke-width="1"/>
<text x="392.50" y="451.57" font-size="10.6" text-anchor="end" textLength="9.00" lengthAdjust="spacingAndGlyphs" fill="#1c1c1c" stroke="#1c1c1c" stroke-width="0.35">60</text>
<line x1="402.50" x2="563.70" y1="421.04" y2="421.04" stroke="#d9d9d9" stroke-width="1"/>
<text x="392.50" y="424.83" font-size="10.6" text-anchor="end" textLength="9.00" lengthAdjust="spacingAndGlyphs" fill="#1c1c1c" stroke="#1c1c1c" stroke-width="0.35">80</text>
<line x1="402.50" x2="563.70" y1="394.30" y2="394.30" stroke="#d9d9d9" stroke-width="1"/>
<text x="392.50" y="398.09" font-size="10.6" text-anchor="end" textLength="13.50" lengthAdjust="spacingAndGlyphs" fill="#1c1c1c" stroke="#1c1c1c" stroke-width="0.35">100</text>
<text x="383.70" y="380.00" font-size="11.2" textLength="6.80" lengthAdjust="spacingAndGlyphs" fill="#1c1c1c" stroke="#1c1c1c" stroke-width="0.35">%</text>
<polyline points="409.22,453.80 422.65,468.77 436.08,482.54 449.52,496.31 462.95,507.54 476.38,515.03 489.82,517.04 503.25,509.95 516.68,495.51 530.12,455.80 543.55,463.82 556.98,471.31" fill="none" stroke="#b3a19d" stroke-width="2.5" stroke-linejoin="round" stroke-linecap="round"/>
<polyline points="409.22,427.06 422.65,448.72 436.08,472.51 449.52,490.03 462.95,485.08 476.38,476.26 489.82,467.57 503.25,477.46 516.68,447.78 530.12,395.10 543.55,395.10 556.98,416.23" fill="none" stroke="#ffa31a" stroke-width="2.6" stroke-dasharray="6.2 3.1" stroke-linejoin="round"/>
<polyline points="409.22,477.46 422.65,487.89 436.08,494.98 449.52,501.26 462.95,504.20 476.38,506.74 489.82,491.23 503.25,498.72 516.68,431.74 530.12,403.79 543.55,399.65 556.98,409.54" fill="none" stroke="#ab9590" stroke-width="3.4" stroke-linejoin="round" stroke-linecap="round"/>
<polyline points="409.22,477.46 422.65,487.89 436.08,494.98 449.52,501.26 462.95,504.20 476.38,506.74 489.82,491.23 503.25,498.72 516.68,431.74 530.12,403.79 543.55,399.65 556.98,409.54" fill="none" stroke="#f2f2f2" stroke-width="1.3" stroke-linejoin="round" stroke-linecap="round"/>
<polyline points="409.22,427.06 422.65,443.77 436.08,460.08 449.52,474.25 462.95,477.06 476.38,490.56 489.82,483.08 503.25,483.08 516.68,455.00 530.12,446.98 543.55,458.74 556.98,470.51" fill="none" stroke="#ff6a0a" stroke-width="2.7" stroke-linejoin="round" stroke-linecap="round"/>
<line x1="402.50" x2="563.70" y1="528.00" y2="528.00" stroke="#595959" stroke-width="1.1"/>
<polyline points="409.22,479.47 422.65,489.23 436.08,499.92 449.52,506.74 462.95,513.03 476.38,516.77 489.82,519.44 503.25,517.44 516.68,482.54 530.12,489.23 543.55,494.31 556.98,502.60" fill="none" stroke="#5e4a46" stroke-width="2.5" stroke-linejoin="round" stroke-linecap="round"/>
<ellipse cx="409.22" cy="479.47" rx="2.75" ry="3.3" fill="#f4f0ef" stroke="#5e4a46" stroke-width="2.1"/>
<ellipse cx="422.65" cy="489.23" rx="2.75" ry="3.3" fill="#f4f0ef" stroke="#5e4a46" stroke-width="2.1"/>
<ellipse cx="436.08" cy="499.92" rx="2.75" ry="3.3" fill="#f4f0ef" stroke="#5e4a46" stroke-width="2.1"/>
<ellipse cx="449.52" cy="506.74" rx="2.75" ry="3.3" fill="#f4f0ef" stroke="#5e4a46" stroke-width="2.1"/>
<ellipse cx="462.95" cy="513.03" rx="2.75" ry="3.3" fill="#f4f0ef" stroke="#5e4a46" stroke-width="2.1"/>
<ellipse cx="476.38" cy="516.77" rx="2.75" ry="3.3" fill="#f4f0ef" stroke="#5e4a46" stroke-width="2.1"/>
<ellipse cx="489.82" cy="519.44" rx="2.75" ry="3.3" fill="#f4f0ef" stroke="#5e4a46" stroke-width="2.1"/>
<ellipse cx="503.25" cy="517.44" rx="2.75" ry="3.3" fill="#f4f0ef" stroke="#5e4a46" stroke-width="2.1"/>
<ellipse cx="516.68" cy="482.54" rx="2.75" ry="3.3" fill="#f4f0ef" stroke="#5e4a46" stroke-width="2.1"/>
<ellipse cx="530.12" cy="489.23" rx="2.75" ry="3.3" fill="#f4f0ef" stroke="#5e4a46" stroke-width="2.1"/>
<ellipse cx="543.55" cy="494.31" rx="2.75" ry="3.3" fill="#f4f0ef" stroke="#5e4a46" stroke-width="2.1"/>
<ellipse cx="556.98" cy="502.60" rx="2.75" ry="3.3" fill="#f4f0ef" stroke="#5e4a46" stroke-width="2.1"/>
<polyline points="409.22,506.21 422.65,515.70 436.08,525.06 449.52,528.00 462.95,528.00 476.38,528.00 489.82,528.00" fill="none" stroke="#c00000" stroke-width="2.1" stroke-dasharray="2.1 2.4"/>
<path d="M409.22 502.91 L412.02 510.11 L406.42 510.11 Z" fill="#f6e4e4" stroke="#c00000" stroke-width="2.0" stroke-linejoin="miter"/>
<path d="M422.65 512.40 L425.45 519.60 L419.85 519.60 Z" fill="#f6e4e4" stroke="#c00000" stroke-width="2.0" stroke-linejoin="miter"/>
<path d="M436.08 521.76 L438.88 528.96 L433.28 528.96 Z" fill="#f6e4e4" stroke="#c00000" stroke-width="2.0" stroke-linejoin="miter"/>
<path d="M449.52 524.70 L452.32 531.90 L446.72 531.90 Z" fill="#c00000" stroke="#c00000" stroke-width="2.0" stroke-linejoin="miter"/>
<path d="M462.95 524.70 L465.75 531.90 L460.15 531.90 Z" fill="#c00000" stroke="#c00000" stroke-width="2.0" stroke-linejoin="miter"/>
<path d="M476.38 524.70 L479.18 531.90 L473.58 531.90 Z" fill="#c00000" stroke="#c00000" stroke-width="2.0" stroke-linejoin="miter"/>
<path d="M489.82 524.70 L492.62 531.90 L487.02 531.90 Z" fill="#c00000" stroke="#c00000" stroke-width="2.0" stroke-linejoin="miter"/>
<text x="409.22" y="546.80" font-size="10.3" text-anchor="middle" textLength="11.80" lengthAdjust="spacingAndGlyphs" fill="#1c1c1c" stroke="#1c1c1c" stroke-width="0.35">Jan</text>
<text x="436.08" y="546.80" font-size="10.3" text-anchor="middle" textLength="15.00" lengthAdjust="spacingAndGlyphs" fill="#1c1c1c" stroke="#1c1c1c" stroke-width="0.35">Mar</text>
<text x="462.95" y="546.80" font-size="10.3" text-anchor="middle" textLength="15.50" lengthAdjust="spacingAndGlyphs" fill="#1c1c1c" stroke="#1c1c1c" stroke-width="0.35">May</text>
<text x="489.82" y="546.80" font-size="10.3" text-anchor="middle" textLength="9.80" lengthAdjust="spacingAndGlyphs" fill="#1c1c1c" stroke="#1c1c1c" stroke-width="0.35">Jul</text>
<text x="516.68" y="546.80" font-size="10.3" text-anchor="middle" textLength="12.80" lengthAdjust="spacingAndGlyphs" fill="#1c1c1c" stroke="#1c1c1c" stroke-width="0.35">Sep</text>
<text x="543.55" y="546.80" font-size="10.3" text-anchor="middle" textLength="14.50" lengthAdjust="spacingAndGlyphs" fill="#1c1c1c" stroke="#1c1c1c" stroke-width="0.35">Nov</text>
<text x="598.00" y="550.79" font-size="10.6" text-anchor="end" textLength="4.50" lengthAdjust="spacingAndGlyphs" fill="#1c1c1c" stroke="#1c1c1c" stroke-width="0.35">0</text>
<line x1="608.70" x2="772.30" y1="527.30" y2="527.30" stroke="#f7f7f7" stroke-width="1"/>
<text x="598.00" y="531.09" font-size="10.6" text-anchor="end" textLength="9.00" lengthAdjust="spacingAndGlyphs" fill="#1c1c1c" stroke="#1c1c1c" stroke-width="0.35">10</text>
<line x1="608.70" x2="772.30" y1="507.60" y2="507.60" stroke="#f7f7f7" stroke-width="1"/>
<text x="598.00" y="511.39" font-size="10.6" text-anchor="end" textLength="9.00" lengthAdjust="spacingAndGlyphs" fill="#1c1c1c" stroke="#1c1c1c" stroke-width="0.35">20</text>
<line x1="608.70" x2="772.30" y1="487.90" y2="487.90" stroke="#f7f7f7" stroke-width="1"/>
<text x="598.00" y="491.69" font-size="10.6" text-anchor="end" textLength="9.00" lengthAdjust="spacingAndGlyphs" fill="#1c1c1c" stroke="#1c1c1c" stroke-width="0.35">30</text>
<line x1="608.70" x2="772.30" y1="468.20" y2="468.20" stroke="#f7f7f7" stroke-width="1"/>
<text x="598.00" y="471.99" font-size="10.6" text-anchor="end" textLength="9.00" lengthAdjust="spacingAndGlyphs" fill="#1c1c1c" stroke="#1c1c1c" stroke-width="0.35">40</text>
<line x1="608.70" x2="772.30" y1="448.50" y2="448.50" stroke="#f7f7f7" stroke-width="1"/>
<text x="598.00" y="452.29" font-size="10.6" text-anchor="end" textLength="9.00" lengthAdjust="spacingAndGlyphs" fill="#1c1c1c" stroke="#1c1c1c" stroke-width="0.35">50</text>
<line x1="608.70" x2="772.30" y1="428.80" y2="428.80" stroke="#f7f7f7" stroke-width="1"/>
<text x="598.00" y="432.59" font-size="10.6" text-anchor="end" textLength="9.00" lengthAdjust="spacingAndGlyphs" fill="#1c1c1c" stroke="#1c1c1c" stroke-width="0.35">60</text>
<text x="590.00" y="415.80" font-size="11.2" textLength="6.80" lengthAdjust="spacingAndGlyphs" fill="#1c1c1c" stroke="#1c1c1c" stroke-width="0.35">%</text>
<polyline points="615.52,491.25 629.15,497.55 642.78,503.66 656.42,509.96 670.05,517.06 683.68,523.75 697.32,521.19 710.95,515.09 724.58,506.22 738.22,497.95 751.85,499.92 765.48,502.08" fill="none" stroke="#b3a19d" stroke-width="2.5" stroke-linejoin="round" stroke-linecap="round"/>
<polyline points="615.52,480.02 629.15,487.51 642.78,497.55 656.42,505.04 670.05,506.22 683.68,503.66 697.32,488.69 710.95,475.10 724.58,465.44 738.22,446.33 751.85,444.56 765.48,448.70" fill="none" stroke="#ffa31a" stroke-width="2.6" stroke-dasharray="6.2 3.1" stroke-linejoin="round"/>
<polyline points="615.52,505.43 629.15,510.56 642.78,516.27 656.42,521.78 670.05,524.94 683.68,523.75 697.32,521.78 710.95,513.71 724.58,492.43 738.22,475.10 751.85,471.15 765.48,475.10" fill="none" stroke="#ab9590" stroke-width="3.4" stroke-linejoin="round" stroke-linecap="round"/>
<polyline points="615.52,505.43 629.15,510.56 642.78,516.27 656.42,521.78 670.05,524.94 683.68,523.75 697.32,521.78 710.95,513.71 724.58,492.43 738.22,475.10 751.85,471.15 765.48,475.10" fill="none" stroke="#e4e0df" stroke-width="1.3" stroke-linejoin="round" stroke-linecap="round"/>
<polyline points="615.52,457.96 629.15,468.79 642.78,480.02 656.42,489.28 670.05,494.60 683.68,491.25 697.32,477.46 710.95,464.46 724.58,457.96 738.22,452.05 751.85,453.82 765.48,463.08" fill="none" stroke="#ff6a0a" stroke-width="2.7" stroke-linejoin="round" stroke-linecap="round"/>
<line x1="608.70" x2="772.30" y1="547.00" y2="547.00" stroke="#595959" stroke-width="1.1"/>
<polyline points="615.52,470.17 629.15,478.05 642.78,489.28 656.42,499.92 670.05,507.60 683.68,513.31 697.32,516.66 710.95,499.92 724.58,480.02 738.22,480.02 751.85,483.76 765.48,488.69" fill="none" stroke="#5e4a46" stroke-width="2.5" stroke-linejoin="round" stroke-linecap="round"/>
<ellipse cx="615.52" cy="470.17" rx="2.75" ry="3.3" fill="#f4f0ef" stroke="#5e4a46" stroke-width="2.1"/>
<ellipse cx="629.15" cy="478.05" rx="2.75" ry="3.3" fill="#f4f0ef" stroke="#5e4a46" stroke-width="2.1"/>
<ellipse cx="642.78" cy="489.28" rx="2.75" ry="3.3" fill="#f4f0ef" stroke="#5e4a46" stroke-width="2.1"/>
<ellipse cx="656.42" cy="499.92" rx="2.75" ry="3.3" fill="#f4f0ef" stroke="#5e4a46" stroke-width="2.1"/>
<ellipse cx="670.05" cy="507.60" rx="2.75" ry="3.3" fill="#f4f0ef" stroke="#5e4a46" stroke-width="2.1"/>
<ellipse cx="683.68" cy="513.31" rx="2.75" ry="3.3" fill="#f4f0ef" stroke="#5e4a46" stroke-width="2.1"/>
<ellipse cx="697.32" cy="516.66" rx="2.75" ry="3.3" fill="#f4f0ef" stroke="#5e4a46" stroke-width="2.1"/>
<ellipse cx="710.95" cy="499.92" rx="2.75" ry="3.3" fill="#f4f0ef" stroke="#5e4a46" stroke-width="2.1"/>
<ellipse cx="724.58" cy="480.02" rx="2.75" ry="3.3" fill="#f4f0ef" stroke="#5e4a46" stroke-width="2.1"/>
<ellipse cx="738.22" cy="480.02" rx="2.75" ry="3.3" fill="#f4f0ef" stroke="#5e4a46" stroke-width="2.1"/>
<ellipse cx="751.85" cy="483.76" rx="2.75" ry="3.3" fill="#f4f0ef" stroke="#5e4a46" stroke-width="2.1"/>
<ellipse cx="765.48" cy="488.69" rx="2.75" ry="3.3" fill="#f4f0ef" stroke="#5e4a46" stroke-width="2.1"/>
<polyline points="615.52,496.76 629.15,502.48 642.78,510.56 656.42,518.83 670.05,525.72 683.68,529.27 697.32,529.27" fill="none" stroke="#c00000" stroke-width="2.1" stroke-dasharray="2.1 2.4"/>
<path d="M615.52 493.46 L618.32 500.66 L612.72 500.66 Z" fill="#f6e4e4" stroke="#c00000" stroke-width="2.0" stroke-linejoin="miter"/>
<path d="M629.15 499.18 L631.95 506.38 L626.35 506.38 Z" fill="#f6e4e4" stroke="#c00000" stroke-width="2.0" stroke-linejoin="miter"/>
<path d="M642.78 507.25 L645.58 514.46 L639.98 514.46 Z" fill="#f6e4e4" stroke="#c00000" stroke-width="2.0" stroke-linejoin="miter"/>
<path d="M656.42 515.53 L659.22 522.73 L653.62 522.73 Z" fill="#f6e4e4" stroke="#c00000" stroke-width="2.0" stroke-linejoin="miter"/>
<path d="M670.05 522.42 L672.85 529.62 L667.25 529.62 Z" fill="#f6e4e4" stroke="#c00000" stroke-width="2.0" stroke-linejoin="miter"/>
<path d="M683.68 525.97 L686.48 533.17 L680.88 533.17 Z" fill="#f6e4e4" stroke="#c00000" stroke-width="2.0" stroke-linejoin="miter"/>
<path d="M697.32 525.97 L700.12 533.17 L694.52 533.17 Z" fill="#f6e4e4" stroke="#c00000" stroke-width="2.0" stroke-linejoin="miter"/>
<text x="615.52" y="567.00" font-size="10.3" text-anchor="middle" textLength="11.80" lengthAdjust="spacingAndGlyphs" fill="#1c1c1c" stroke="#1c1c1c" stroke-width="0.35">Jan</text>
<text x="642.78" y="567.00" font-size="10.3" text-anchor="middle" textLength="15.00" lengthAdjust="spacingAndGlyphs" fill="#1c1c1c" stroke="#1c1c1c" stroke-width="0.35">Mar</text>
<text x="670.05" y="567.00" font-size="10.3" text-anchor="middle" textLength="15.50" lengthAdjust="spacingAndGlyphs" fill="#1c1c1c" stroke="#1c1c1c" stroke-width="0.35">May</text>
<text x="697.32" y="567.00" font-size="10.3" text-anchor="middle" textLength="9.80" lengthAdjust="spacingAndGlyphs" fill="#1c1c1c" stroke="#1c1c1c" stroke-width="0.35">Jul</text>
<text x="724.58" y="567.00" font-size="10.3" text-anchor="middle" textLength="12.80" lengthAdjust="spacingAndGlyphs" fill="#1c1c1c" stroke="#1c1c1c" stroke-width="0.35">Sep</text>
<text x="751.85" y="567.00" font-size="10.3" text-anchor="middle" textLength="14.50" lengthAdjust="spacingAndGlyphs" fill="#1c1c1c" stroke="#1c1c1c" stroke-width="0.35">Nov</text>
<text x="310.00" y="28.50" font-size="15.8" font-weight="700" textLength="179.50" lengthAdjust="spacingAndGlyphs" fill="#111111" stroke="#111111" stroke-width="0.4">Figure 4: % Usable Water Supply</text>
<text x="226.00" y="170.00" font-size="13.7" font-weight="700" textLength="44.50" lengthAdjust="spacingAndGlyphs" fill="#111111" stroke="#111111" stroke-width="0.4">Northern</text>
<text x="500.70" y="172.80" font-size="13.7" font-weight="700" textLength="67.00" lengthAdjust="spacingAndGlyphs" fill="#111111" stroke="#111111" stroke-width="0.4">North Eastern</text>
<text x="533.70" y="292.70" font-size="13.7" font-weight="700" textLength="36.50" lengthAdjust="spacingAndGlyphs" fill="#111111" stroke="#111111" stroke-width="0.4">Eastern</text>
<text x="465.70" y="351.90" font-size="13.7" font-weight="700" textLength="35.70" lengthAdjust="spacingAndGlyphs" fill="#111111" stroke="#111111" stroke-width="0.4">Central</text>
<text x="229.60" y="320.80" font-size="13.7" font-weight="700" textLength="41.50" lengthAdjust="spacingAndGlyphs" fill="#111111" stroke="#111111" stroke-width="0.4">Western</text>
<text x="227.00" y="474.30" font-size="13.7" font-weight="700" textLength="44.00" lengthAdjust="spacingAndGlyphs" fill="#111111" stroke="#111111" stroke-width="0.4">Southern</text>
<text x="497.50" y="607.50" font-size="14.2" font-weight="700" textLength="74.00" lengthAdjust="spacingAndGlyphs" fill="#111111" stroke="#111111" stroke-width="0.4">Whole Country</text>
<text x="25.60" y="612.80" font-size="10.4" textLength="230.50" lengthAdjust="spacingAndGlyphs" fill="#111111" stroke="#111111" stroke-width="0.35">Note: 2020F is based on water usage behavior in 2016 and 2019</text>
<text x="25.60" y="624.70" font-size="10.4" textLength="134.20" lengthAdjust="spacingAndGlyphs" fill="#111111" stroke="#111111" stroke-width="0.35">Source: Thaiwater, Krungsri Research</text>
<line x1="602.5" x2="640.8" y1="584.3" y2="584.3" stroke="#b3a19d" stroke-width="2.7"/>
<line x1="700.8" x2="739.3" y1="584.3" y2="584.3" stroke="#b3a19c" stroke-width="4" stroke-linecap="round"/>
<line x1="700.8" x2="739.3" y1="584.3" y2="584.3" stroke="#e2dcda" stroke-width="1.7" stroke-linecap="round"/>
<line x1="602.5" x2="640.8" y1="600.6" y2="600.6" stroke="#ffa31a" stroke-width="2.8" stroke-dasharray="6 2.6"/>
<line x1="700.8" x2="739.3" y1="600.6" y2="600.6" stroke="#ff6a0a" stroke-width="3"/>
<line x1="602.5" x2="640.8" y1="616.3" y2="616.3" stroke="#5e4a46" stroke-width="2.7"/>
<ellipse cx="621.7" cy="616.3" rx="2.4" ry="2.9" fill="#e8e2e1" stroke="#5e4a46" stroke-width="1.6"/>
<line x1="700.8" x2="739.3" y1="616.3" y2="616.3" stroke="#c00000" stroke-width="2.1" stroke-dasharray="2.1 2.4"/>
<path d="M720.00 613.10 L722.30 618.90 L717.70 618.90 Z" fill="#d04040" stroke="#c00000" stroke-width="2.1"/>
<text x="645.50" y="588.20" font-size="11" textLength="17.60" lengthAdjust="spacingAndGlyphs" fill="#1c1c1c" stroke="#1c1c1c" stroke-width="0.35">2015</text>
<text x="645.50" y="604.50" font-size="11" textLength="17.60" lengthAdjust="spacingAndGlyphs" fill="#1c1c1c" stroke="#1c1c1c" stroke-width="0.35">2017</text>
<text x="645.50" y="620.20" font-size="11" textLength="17.60" lengthAdjust="spacingAndGlyphs" fill="#1c1c1c" stroke="#1c1c1c" stroke-width="0.35">2019</text>
<text x="743.00" y="588.20" font-size="11" textLength="17.80" lengthAdjust="spacingAndGlyphs" fill="#1c1c1c" stroke="#1c1c1c" stroke-width="0.35">2016</text>
<text x="743.00" y="604.50" font-size="11" textLength="17.80" lengthAdjust="spacingAndGlyphs" fill="#1c1c1c" stroke="#1c1c1c" stroke-width="0.35">2018</text>
<text x="743.00" y="620.20" font-size="11" textLength="21.60" lengthAdjust="spacingAndGlyphs" fill="#1c1c1c" stroke="#1c1c1c" stroke-width="0.35">2020F</text>
</g>
</svg>
</body>
</html>
